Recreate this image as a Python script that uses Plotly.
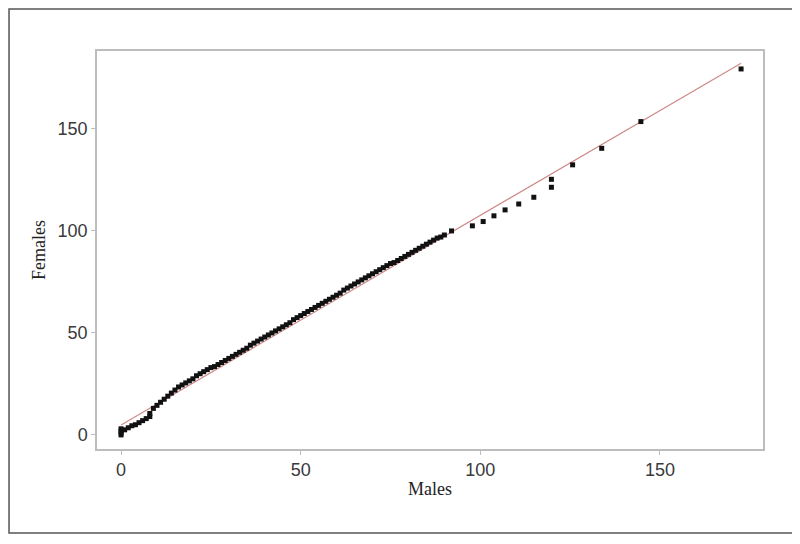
import plotly.graph_objects as go

males = [0, 0, 0, 0, 1, 2, 3, 4, 5, 6, 7, 8, 8, 9, 10, 11, 12, 13, 14, 15,
         16, 17, 18, 19, 20, 21, 22, 23, 24, 25, 26, 27, 28, 29, 30, 31, 32, 33, 34, 35,
         36, 37, 38, 39, 40, 41, 42, 43, 44, 45, 46, 47, 48, 49, 50, 51, 52, 53, 54, 55,
         56, 57, 58, 59, 60, 61, 62, 63, 64, 65, 66, 67, 68, 69, 70, 71, 72, 73, 74, 75,
         76, 77, 78, 79, 80, 81, 82, 83, 84, 85, 86, 87, 88, 89, 90, 92,
         97.8, 100.8, 103.8, 106.9, 110.7, 114.9, 119.8, 119.8, 125.7, 133.8, 144.7, 172.6]
females = [0, 1, 2, 3, 2.5, 3.5, 4.5, 5, 6, 7, 8, 9, 10.5, 13, 14.5, 16, 17.5, 19, 20.5, 22,
           23.5, 24.5, 25.5, 26.5, 27.5, 29, 30, 31, 32, 33, 33.5, 34.5, 35.5, 36.5, 37.5, 38.5, 39.5, 40.5, 41.5, 42.5,
           44, 45, 46, 47, 48, 49, 50, 51, 52, 53, 54, 55, 56.5, 57.5, 58.5, 59.5, 60.5, 61.5, 62.5, 63.5,
           64.5, 65.5, 66.5, 67.5, 68.5, 69.5, 71, 72, 73, 74, 75, 76, 77, 78, 79, 80, 81, 82, 83, 84,
           84.5, 85.5, 86.5, 87.5, 88.5, 89.5, 90.5, 91.5, 92.5, 93.5, 94.5, 95.5, 96.5, 97, 98, 100,
           102.5, 104.6, 107.4, 110.3, 113.2, 116.5, 121.4, 125.3, 132.4, 140.5, 153.6, 179.4]

fit_x = [0, 172.6]
fit_y = [4.9, 182.2]

x_ticks = [0, 50, 100, 150]
y_ticks = [0, 50, 100, 150]

fig = go.Figure()
fig.add_trace(go.Scatter(x=fit_x, y=fit_y, mode="lines",
                         line=dict(color="#cf8a8a", width=1.2), hoverinfo="skip"))
fig.add_trace(go.Scatter(x=males, y=females, mode="markers",
                         marker=dict(symbol="square", size=5, color="#111111")))

axis_common = dict(showgrid=False, zeroline=False, showline=True, mirror=True,
                   linecolor="#bdbdbd", linewidth=1.5, ticks="outside", ticklen=4,
                   tickcolor="#bdbdbd", tickwidth=1,
                   tickfont=dict(family="Liberation Sans, Arial", size=18, color="#3a3a3a"))

fig.update_layout(
    width=792, height=536,
    margin=dict(l=89, r=37, t=43, b=95),
    paper_bgcolor="white", plot_bgcolor="white",
    showlegend=False,
    xaxis=dict(range=[-6.7, 178.7], tickvals=x_ticks,
               title=dict(text="Males", font=dict(family="Liberation Serif, Times New Roman", size=18, color="#222"), standoff=3),
               **axis_common),
    yaxis=dict(range=[-6.9, 188.2], tickvals=y_ticks,
               title=dict(text="Females", font=dict(family="Liberation Serif, Times New Roman", size=18, color="#222"), standoff=7),
               **axis_common),
    shapes=[dict(type="rect", xref="paper", yref="paper",
                 x0=-0.1321, x1=1.045, y0=-0.211, y1=1.1055,
                 line=dict(color="#555555", width=1.5))],
)

fig.write_html("out.html")
